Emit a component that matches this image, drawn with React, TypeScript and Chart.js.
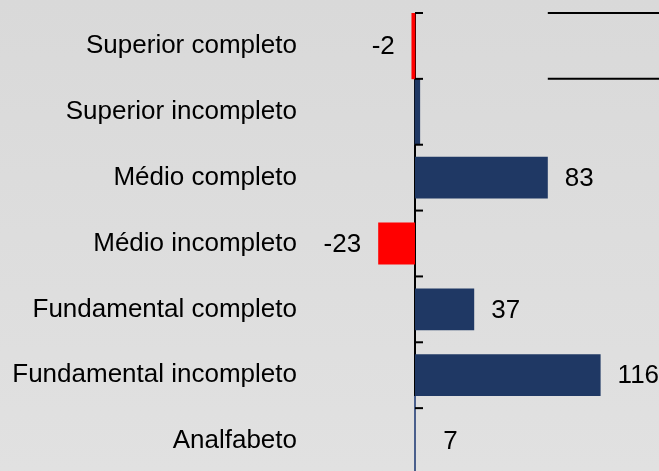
import React, { useEffect, useRef } from "react";
import { Chart, registerables } from "chart.js";

Chart.register(...registerables);

const categories = [
  "Superior completo",
  "Superior incompleto",
  "Médio completo",
  "Médio incompleto",
  "Fundamental completo",
  "Fundamental incompleto",
  "Analfabeto",
];
// top two rows are drawn full-height in the reference
const thinRowValues = [-2, 3, null, null, null, null, null];
const mainValues = [null, null, 83, -23, 37, 116, 7];
const valueLabels = ["-2", "", "83", "-23", "37", "116", "7"];
const thinColors = ["#ff0000", "#1f3864", "#1f3864", "#1f3864", "#1f3864", "#1f3864", "#1f3864"];
const mainColors = ["#1f3864", "#1f3864", "#1f3864", "#ff0000", "#1f3864", "#1f3864", "rgba(0,0,0,0)"];
const xMin = -50;
const xMax = 150;

const FONT = "'Liberation Sans', Arial, sans-serif";
const FONT_SIZE = 26;

const decorPlugin = {
  id: "decor",
  beforeDatasetsDraw(chart: any) {
    const { ctx, scales, chartArea } = chart;
    const x0 = scales.x.getPixelForValue(0);
    ctx.save();
    // zero line
    ctx.strokeStyle = "#000000";
    ctx.lineWidth = 2;
    ctx.beginPath();
    ctx.moveTo(x0, chartArea.top);
    ctx.lineTo(x0, chartArea.bottom);
    ctx.stroke();
    // lower segment of the axis is blue
    const meta = chart.getDatasetMeta(1);
    const prev = meta.data[categories.length - 2] as any;
    if (prev) {
      const yStart = prev.y + prev.height / 2;
      ctx.strokeStyle = "#4a5f8c";
      ctx.beginPath();
      ctx.moveTo(x0, yStart);
      ctx.lineTo(x0, chartArea.bottom);
      ctx.stroke();
    }
    ctx.restore();
  },
  afterDatasetsDraw(chart: any) {
    const { ctx, scales } = chart;
    const x0 = scales.x.getPixelForValue(0);
    const y = scales.y;
    const step = y.getPixelForValue(1) - y.getPixelForValue(0);
    ctx.save();
    // tick marks at category boundaries
    ctx.strokeStyle = "#000000";
    ctx.lineWidth = 2;
    for (let i = 0; i <= categories.length; i++) {
      const yy = y.getPixelForValue(0) - step / 2 + i * step;
      ctx.beginPath();
      ctx.moveTo(x0, yy);
      ctx.lineTo(x0 + 8, yy);
      ctx.stroke();
    }
    // frame lines at top right
    const top = y.getPixelForValue(0) - step / 2;
    const xl = scales.x.getPixelForValue(83);
    ctx.beginPath();
    ctx.moveTo(xl, top);
    ctx.lineTo(chart.width, top);
    ctx.moveTo(xl, top + step);
    ctx.lineTo(chart.width, top + step);
    ctx.stroke();

    // value labels
    ctx.fillStyle = "#000000";
    ctx.font = `${FONT_SIZE}px ${FONT}`;
    ctx.textBaseline = "middle";
    for (let i = 0; i < categories.length; i++) {
      const label = valueLabels[i];
      if (!label) continue;
      const dsIndex = thinRowValues[i] !== null ? 0 : 1;
      const v = (dsIndex === 0 ? thinRowValues[i] : mainValues[i]) as number;
      const el = chart.getDatasetMeta(dsIndex).data[i] as any;
      if (!el) continue;
      const xe = scales.x.getPixelForValue(v);
      if (v < 0) {
        ctx.textAlign = "right";
        ctx.fillText(label, xe - 17, el.y + 1);
      } else {
        ctx.textAlign = "left";
        ctx.fillText(label, xe + 17, el.y + 1);
      }
    }
    ctx.restore();
  },
};

export default function App() {
  const ref = useRef<HTMLCanvasElement | null>(null);
  useEffect(() => {
    if (!ref.current) return;
    const chart = new Chart(ref.current, {
      type: "bar",
      data: {
        labels: categories,
        datasets: [
          {
            data: thinRowValues as any,
            backgroundColor: thinColors,
            barPercentage: 1,
            categoryPercentage: 1,
            grouped: false,
          } as any,
          {
            data: mainValues as any,
            backgroundColor: mainColors,
            barPercentage: 0.634,
            categoryPercentage: 1,
            grouped: false,
          } as any,
        ],
      },
      options: {
        indexAxis: "y",
        responsive: false,
        animation: false,
        devicePixelRatio: 1,
        layout: { padding: { top: 13, bottom: 0, left: 0, right: 4 } },
        plugins: { legend: { display: false }, tooltip: { enabled: false } },
        scales: {
          x: {
            min: xMin,
            max: xMax,
            display: false,
            grid: { display: false },
          },
          y: {
            grid: { display: false, drawTicks: false },
            border: { display: false },
            ticks: {
              color: "#000000",
              padding: 38,
              font: { family: FONT, size: FONT_SIZE },
            },
            afterFit: (scale: any) => {
              scale.width = 335;
              scale.paddingTop = 0;
              scale.paddingBottom = 0;
            },
          },
        },
      },
      plugins: [decorPlugin],
    });
    return () => chart.destroy();
  }, []);
  return (
    <div
      style={{
        position: "fixed",
        left: 0,
        top: 0,
        width: 659,
        height: 471,
        overflow: "hidden",
        background: "linear-gradient(#d9d9d9, #e1e1e1)",
      }}
    >
      <canvas ref={ref} width={659} height={474} style={{ display: "block", width: 659, height: 474 }} />
    </div>
  );
}
